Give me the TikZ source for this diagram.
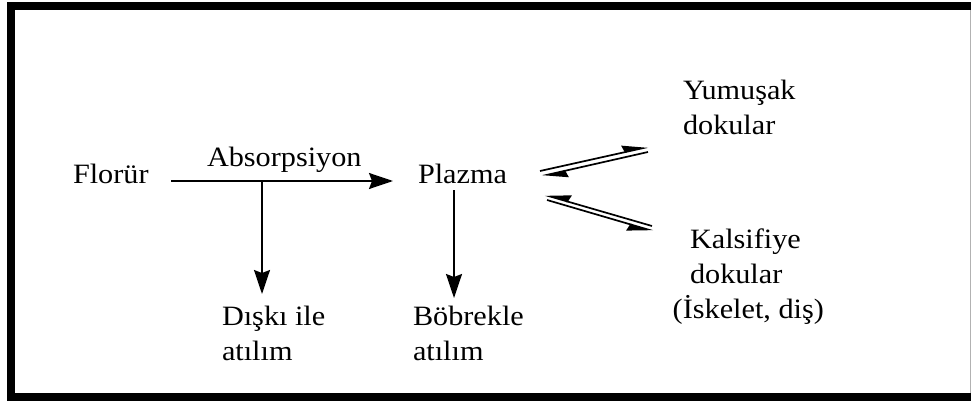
\documentclass[tikz,border=0pt]{standalone}
\usepackage{fontspec}
\setmainfont{Liberation Serif}
\usetikzlibrary{arrows.meta}
\tikzset{
  lbl/.style={inner sep=0pt, outer sep=0pt, xscale=1.08, font=\fontsize{28}{35}\selectfont, align=left},
  arr/.style={line width=1.7pt, -{Stealth[length=24pt,width=16pt,inset=3pt]}},
  harp/.style={line width=1.7pt, -{Stealth[harpoon,length=23pt,width=14pt,inset=2pt]}},
  harps/.style={line width=1.7pt, -{Stealth[harpoon,swap,length=23pt,width=14pt,inset=2pt]}}
}
\begin{document}
\begin{tikzpicture}[x=1pt,y=-1pt]
\useasboundingbox (0,0) rectangle (971,401);
% frame
\fill[black] (7,2) rectangle (971,401);
\fill[white] (15,10) rectangle (969.5,393);
\fill[black!30] (969.5,10) rectangle (971,393);

% texts
\node[lbl, anchor=base west] (florur) at (73,183) {Florür};
\node[lbl, anchor=base west] (abs) at (207,166) {Absorpsiyon};
\node[lbl, anchor=base west] (plazma) at (418,183) {Plazma};
\node[lbl, anchor=base west] (diski) at (222,360) {Dışkı ile\\atılım};
\node[lbl, anchor=base west] (bobrek) at (413,360) {Böbrekle\\atılım};
\node[lbl, anchor=base west] (yumusak) at (683,135) {Yumuşak\\dokular};
\node[lbl, anchor=base west] (kals) at (690,318) {Kalsifiye\\dokular\\\hspace*{-16pt}(İskelet, diş)};

% connector ends
\coordinate (a0) at (171,181);
\coordinate (a1) at (393,181);
\coordinate (b0) at (262,181);
\coordinate (b1) at (262,294);
\coordinate (p0) at (454,190);
\coordinate (p1) at (454,298);
\coordinate (u1) at (540,171);
\coordinate (u2) at (648,147);
\coordinate (u3) at (648,152);
\coordinate (u4) at (542,176);
\coordinate (l1) at (652,226);
\coordinate (l2) at (545,195);
\coordinate (l3) at (547,200);
\coordinate (l4) at (653,231);

\draw[arr] (a0) -- (a1);
\draw[arr] (b0) -- (b1);
\draw[arr] (p0) -- (p1);
\draw[harp] (u1) -- (u2);
\draw[harp] (u3) -- (u4);
\draw[harps] (l1) -- (l2);
\draw[harps] (l3) -- (l4);
\end{tikzpicture}
\end{document}
